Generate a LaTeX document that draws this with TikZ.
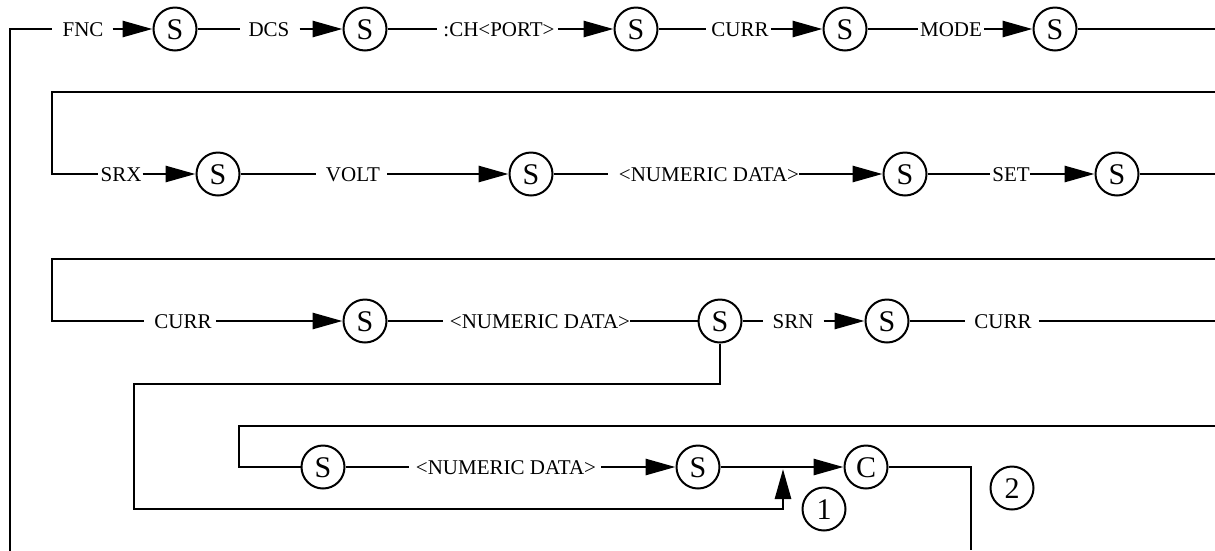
\documentclass[tikz,border=0pt]{standalone}
\usepackage{fontspec}
\setmainfont{Liberation Serif}
\usetikzlibrary{arrows.meta}
\begin{document}
\begin{tikzpicture}[x=1pt,y=-1pt,
  ln/.style={line width=2.8pt, line join=miter},
  thinln/.style={line width=2pt, line cap=rect},
  arr/.style={ln, -{Triangle[length=30pt,width=16pt]}},
  sc/.style={circle, draw, line width=2pt, minimum size=43pt, inner sep=0pt,
    font=\fontsize{30}{30}\selectfont, text height=20pt, text depth=0pt},
  lbl/.style={inner sep=0pt, font=\fontsize{21}{25}\selectfont, text height=14pt, text depth=0pt}]
\useasboundingbox (0,0) rectangle (1215,550);
% coordinates
\coordinate (lt) at (10,29);
\coordinate (lb) at (10,550);
\coordinate (r1e) at (1215,29);
\coordinate (r2a) at (1215,92);
\coordinate (r2b) at (52,92);
\coordinate (r2c) at (52,174);
\coordinate (r2e) at (1215,174);
\coordinate (r3a) at (1215,259);
\coordinate (r3b) at (52,259);
\coordinate (r3c) at (52,321);
\coordinate (r3e) at (1215,321);
\coordinate (la) at (720,384);
\coordinate (lb2) at (134,384);
\coordinate (lc) at (134,509);
\coordinate (ld) at (783,509);
\coordinate (le) at (783,469);
\coordinate (r4a) at (1215,426);
\coordinate (r4b) at (239,426);
\coordinate (r5b) at (239,467);
\coordinate (cr) at (971,467);
\coordinate (cb) at (971,550);
% row 1
\node[lbl] (fnc) at (83,29) {FNC};
\node[sc] (s1) at (175,29) {S};
\node[lbl] (dcs) at (269,29) {DCS};
\node[sc] (s2) at (365,29) {S};
\node[lbl] (ch) at (499,29) {:CH<PORT>};
\node[sc] (s3) at (636,29) {S};
\node[lbl] (cu1) at (740,29) {CURR};
\node[sc] (s4) at (845,29) {S};
\node[lbl] (mode) at (951,29) {MODE};
\node[sc] (s5) at (1055,29) {S};
% row 2
\node[lbl] (srx) at (121,174) {SRX};
\node[sc] (s6) at (218,174) {S};
\node[lbl] (volt) at (353,174) {VOLT};
\node[sc] (s7) at (531,174) {S};
\node[lbl] (nd1) at (709,174) {<NUMERIC DATA>};
\node[sc] (s8) at (905,174) {S};
\node[lbl] (set) at (1011,174) {SET};
\node[sc] (s9) at (1117,174) {S};
% row 3
\node[lbl] (cu2) at (183,321) {CURR};
\node[sc] (s10) at (365,321) {S};
\node[lbl] (nd2) at (540,321) {<NUMERIC DATA>};
\node[sc] (s11) at (720,321) {S};
\node[lbl] (srn) at (793,321) {SRN};
\node[sc] (s12) at (887,321) {S};
\node[lbl] (cu3) at (1003,321) {CURR};
% row 5
\node[sc] (s13) at (323,467) {S};
\node[lbl] (nd3) at (506,467) {<NUMERIC DATA>};
\node[sc] (s14) at (698,467) {S};
\node[sc] (c) at (866,467) {C};
\node[sc] (n1) at (824,509) {1};
\node[sc] (n2) at (1012,488) {2};
% row 1 connectors
\draw[thinln] (lb) -- (lt);
\draw[ln] (lt) -- ([xshift=-10pt]fnc.west);
\draw[arr] ([xshift=9pt]fnc.east) -- (s1);
\draw[ln] (s1) -- ([xshift=-8pt]dcs.west);
\draw[arr] ([xshift=10pt]dcs.east) -- (s2);
\draw[ln] (s2) -- ([xshift=-6pt]ch.west);
\draw[arr] ([xshift=3pt]ch.east) -- (s3);
\draw[ln] (s3) -- ([xshift=-5pt]cu1.west);
\draw[arr] ([xshift=2pt]cu1.east) -- (s4);
\draw[ln] (s4) -- ([xshift=-2pt]mode.west);
\draw[arr] ([xshift=2pt]mode.east) -- (s5);
\draw[ln] (s5) -- (r1e);
% row 2 connectors
\draw[ln] (r2a) -- (r2b) -- (r2c) -- ([xshift=-2pt]srx.west);
\draw[arr] ([xshift=1pt]srx.east) -- (s6);
\draw[ln] (s6) -- ([xshift=-10pt]volt.west);
\draw[arr] ([xshift=7pt]volt.east) -- (s7);
\draw[ln] (s7) -- ([xshift=-11pt]nd1.west);
\draw[arr] (nd1.east) -- (s8);
\draw[ln] (s8) -- ([xshift=-2pt]set.west);
\draw[arr] (set.east) -- (s9);
\draw[ln] (s9) -- (r2e);
% row 3 connectors
\draw[ln] (r3a) -- (r3b) -- (r3c) -- ([xshift=-10pt]cu2.west);
\draw[arr] ([xshift=4pt]cu2.east) -- (s10);
\draw[ln] (s10) -- ([xshift=-7pt]nd2.west);
\draw[ln] (nd2.east) -- (s11);
\draw[ln] (s11) -- ([xshift=-9pt]srn.west);
\draw[arr] ([xshift=10pt]srn.east) -- (s12);
\draw[ln] (s12) -- ([xshift=-9pt]cu3.west);
\draw[ln] ([xshift=7pt]cu3.east) -- (r3e);
% loop back
\draw[arr] (s11.south) -- (la) -- (lb2) -- (lc) -- (ld) -- (le);
% rows 4 and 5
\draw[ln] (r4a) -- (r4b) -- (r5b) -- (s13);
\draw[ln] (s13) -- ([xshift=-7pt]nd3.west);
\draw[arr] ([xshift=5pt]nd3.east) -- (s14);
\draw[arr] (s14) -- (c);
\draw[ln] (c) -- (cr) -- (cb);
\end{tikzpicture}
\end{document}
